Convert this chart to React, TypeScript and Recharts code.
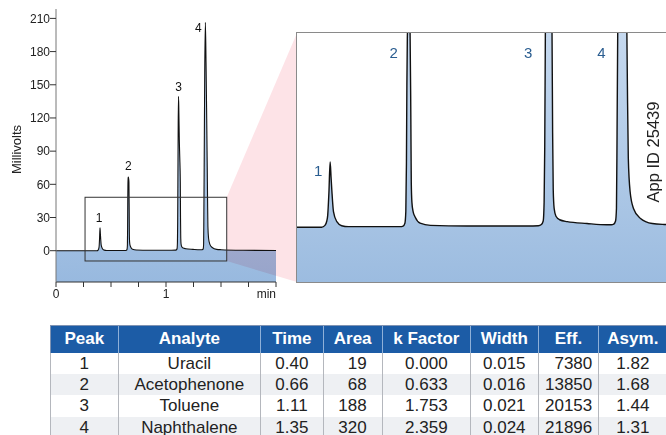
import { Area, ComposedChart, ReferenceArea, ReferenceDot, XAxis, YAxis } from "recharts";

const FONT = '"Liberation Sans", Arial, Helvetica, sans-serif';

// chromatogram trace (minutes, millivolts)
const traceTime = [
  0, 0.3, 0.372, 0.383, 0.389, 0.392, 0.396, 0.4, 0.403, 0.4056, 0.411, 0.422, 0.438, 0.46, 0.6,
  0.63, 0.64, 0.646, 0.649, 0.651, 0.6525, 0.654, 0.6565, 0.658, 0.6605, 0.663, 0.6655, 0.667, 0.669,
  0.673, 0.68, 0.696, 0.73, 0.85, 1.05, 1.085, 1.095, 1.101, 1.104, 1.106, 1.108, 1.111, 1.114, 1.117,
  1.121, 1.125, 1.13, 1.132, 1.134, 1.137, 1.143, 1.155, 1.18, 1.245, 1.31, 1.325, 1.333, 1.339, 1.342,
  1.344, 1.347, 1.352, 1.358, 1.364, 1.37, 1.375, 1.378, 1.381, 1.387, 1.398, 1.42, 1.46, 1.5, 1.7, 2.0,
];
const traceMv = [
  0, 0, 0, 0.6, 2, 3.8, 11, 20.8, 16, 11.8, 5, 1.8, 0.5, 0.2, 0.2,
  0.2, 0.4, 1.3, 5, 20, 45, 60, 66, 66.5, 65, 62, 35, 14, 8,
  5, 3.2, 1.3, 0.6, 0.4, 0.4, 0.5, 0.9, 2, 8, 25, 60, 115, 139.6, 125,
  100, 85, 62, 30, 12, 6, 3.5, 2.4, 1.8, 1.2, 0.8, 0.8, 1.0, 2.0, 6,
  30, 75, 160, 206.5, 170, 120, 75, 45, 22, 11.3, 6, 2.9, 1.2, 0.9, 0.4, 0.2,
];
const trace = traceTime.map((t, i) => ({ t, mv: traceMv[i] }));

const peakIds = ["1", "2", "3", "4"];
const peakTimes = [0.4, 0.658, 1.114, 1.358];
const peakHeights = [20.8, 66.5, 139.6, 206.5];

const yTicks = [0, 30, 60, 90, 120, 150, 180, 210];
const xTicks = [0, 0.25, 0.5, 0.75, 1, 1.25, 1.5, 1.75, 2];
const xTickText: Record<number, string> = { 0: "0", 1: "1", 2: "min" };

// zoom window drawn on the main trace, and what the inset shows
const zoomTime = [0.264, 1.552];
const zoomMv = [-9.3, 48.3];
const insetTime = [0.291, 1.505];
const insetMv = [-17.4, 61.8];
const insetLabelMv = 55.7;

// results table
const tableHeaders = ["Peak", "Analyte", "Time", "Area", "k Factor", "Width", "Eff.", "Asym."];
const analytes = ["Uracil", "Acetophenone", "Toluene", "Naphthalene"];
const retTimes = ["0.40", "0.66", "1.11", "1.35"];
const areas = ["19", "68", "188", "320"];
const kFactors = ["0.000", "0.633", "1.753", "2.359"];
const widths = ["0.015", "0.016", "0.021", "0.024"];
const effs = ["7380", "13850", "20153", "21896"];
const asyms = ["1.82", "1.68", "1.44", "1.31"];

// layout
const INSET = { left: 297, top: 33, width: 369, height: 249 };
const mainLabelOffsets = [[-1, -10], [0, -11], [0, -9], [-7, 6]];
const insetLabelOffsets = [[-12, 9], [-15, 0], [-19, 0], [-20, 0]];
const colWidths = [67.7, 142.3, 62.7, 59, 88.3, 67.7, 60.6, 67.7];

function PeakTag(props: any) {
  const { viewBox, value, dx, dy, fill, fontSize } = props;
  if (!viewBox) return null;
  return (
    <text
      x={viewBox.x + (viewBox.width || 0) / 2 + dx}
      y={viewBox.y + (viewBox.height || 0) / 2 + dy}
      textAnchor="middle"
      dominantBaseline="central"
      fill={fill}
      fontSize={fontSize}
      fontFamily={FONT}
    >
      {value}
    </text>
  );
}

function MainXTick(props: any) {
  const { x, y, payload } = props;
  const v = payload.value;
  const text = xTickText[v] ?? "";
  return (
    <text x={x} y={y} dy="0.71em" textAnchor={v === 2 ? "end" : "middle"} fill="#222" fontSize={12} fontFamily={FONT}>
      {text}
    </text>
  );
}

// zoom rectangle plus the pink wedge to the inset's left edge
function ZoomBox(props: any) {
  const { x, y, width, height } = props;
  const right = x + width;
  const pts = `${right},${y} ${INSET.left},${INSET.top} ${INSET.left},${INSET.top + INSET.height} ${right},${y + height}`;
  return (
    <g>
      <polygon points={pts} fill="#fde3e7" style={{ mixBlendMode: "multiply" }} />
      <rect x={x} y={y} width={width} height={height} fill="none" stroke="#333" strokeWidth={1} />
    </g>
  );
}

function MainChart() {
  return (
    <ComposedChart width={666} height={310} data={trace} margin={{ top: 9, right: 390, bottom: 0, left: 0 }}>
      <defs>
        <linearGradient id="mainFill" x1="0" y1="9" x2="0" y2="282" gradientUnits="userSpaceOnUse">
          <stop offset="0%" stopColor="#c9dbf0" />
          <stop offset="100%" stopColor="#98b9df" />
        </linearGradient>
      </defs>
      <XAxis
        dataKey="t"
        type="number"
        domain={[0, 2]}
        ticks={xTicks}
        height={28}
        tickSize={5}
        tickMargin={2}
        interval={0}
        axisLine={{ stroke: "#333" }}
        tickLine={{ stroke: "#333" }}
        tick={<MainXTick />}
      />
      <YAxis
        type="number"
        domain={[-28.3, 218.5]}
        ticks={yTicks}
        width={56}
        tickSize={6}
        tickMargin={0}
        interval={0}
        axisLine={{ stroke: "#777" }}
        tickLine={{ stroke: "#333" }}
        tick={{ fill: "#222", fontSize: 12, fontFamily: FONT }}
        label={{
          content: (p: any) => (
            <text
              transform={`translate(16, ${p.viewBox.y + p.viewBox.height / 2 + 4}) rotate(-90)`}
              textAnchor="middle"
              dominantBaseline="central"
              fontSize={13}
              fill="#222"
              fontFamily={FONT}
            >
              Millivolts
            </text>
          ),
        }}
      />
      <Area
        type="monotone"
        dataKey="mv"
        stroke="#111"
        strokeWidth={1.1}
        fill="url(#mainFill)"
        fillOpacity={1}
        baseValue={-28.3}
        dot={false}
        activeDot={false}
        isAnimationActive={false}
      />
      <ReferenceArea
        x1={zoomTime[0]}
        x2={zoomTime[1]}
        y1={zoomMv[0]}
        y2={zoomMv[1]}
        shape={<ZoomBox />}
        zIndex={700}
      />
      {peakIds.map((id, i) => (
        <ReferenceDot
          key={id}
          x={peakTimes[i]}
          y={peakHeights[i]}
          r={0}
          stroke="none"
          fill="none"
          zIndex={800}
          label={{
            value: id,
            content: (p: any) => (
              <PeakTag {...p} dx={mainLabelOffsets[i][0]} dy={mainLabelOffsets[i][1]} fill="#111" fontSize={12} />
            ),
          }}
        />
      ))}
    </ComposedChart>
  );
}

function InsetChart() {
  return (
    <ComposedChart width={INSET.width} height={INSET.height} data={trace} margin={{ top: 0, right: 0, bottom: 0, left: 0 }}>
      <defs>
        <linearGradient id="insetFill" x1="0" y1="0" x2="0" y2={INSET.height} gradientUnits="userSpaceOnUse">
          <stop offset="0%" stopColor="#c6d9ef" />
          <stop offset="100%" stopColor="#9cbce0" />
        </linearGradient>
      </defs>
      <XAxis dataKey="t" type="number" domain={insetTime} allowDataOverflow hide />
      <YAxis type="number" domain={insetMv} allowDataOverflow hide />
      <Area
        type="monotone"
        dataKey="mv"
        stroke="#111"
        strokeWidth={1.4}
        fill="url(#insetFill)"
        fillOpacity={1}
        baseValue={insetMv[0]}
        dot={false}
        activeDot={false}
        isAnimationActive={false}
      />
      {peakIds.map((id, i) => (
        <ReferenceDot
          key={id}
          x={peakTimes[i]}
          y={i === 0 ? peakHeights[i] : insetLabelMv}
          r={0}
          stroke="none"
          fill="none"
          zIndex={800}
          label={{
            value: id,
            content: (p: any) => (
              <PeakTag {...p} dx={insetLabelOffsets[i][0]} dy={insetLabelOffsets[i][1]} fill="#2a5d90" fontSize={15} />
            ),
          }}
        />
      ))}
    </ComposedChart>
  );
}

function ResultsTable() {
  const rows = analytes.map((a, i) => [peakIds[i], a, retTimes[i], areas[i], kFactors[i], widths[i], effs[i], asyms[i]]);
  const align = (c: number) => (c === 3 || c === 6 ? "right" : "center");
  const padRight = (c: number) => (c === 3 ? 15 : c === 6 ? 6 : 0);
  return (
    <table
      style={{
        position: "absolute",
        left: 50,
        top: 325,
        width: 616,
        borderCollapse: "collapse",
        tableLayout: "fixed",
        fontFamily: FONT,
        fontSize: 17,
        color: "#222",
      }}
    >
      <colgroup>
        {colWidths.map((w, i) => (
          <col key={i} style={{ width: w }} />
        ))}
      </colgroup>
      <thead>
        <tr style={{ height: 27 }}>
          {tableHeaders.map((h, c) => (
            <th
              key={h}
              style={{
                background: "#1c5ca6",
                color: "#fff",
                fontWeight: "bold",
                padding: 0,
                borderTop: "1px solid #7f93b3",
                borderLeft: c === 0 ? "1px solid #7f93b3" : "1px solid #8fb0d8",
                textAlign: "center",
              }}
            >
              {h}
            </th>
          ))}
        </tr>
      </thead>
      <tbody>
        {rows.map((r, i) => (
          <tr key={i} style={{ height: 21.4, background: i % 2 === 1 ? "#eef0f3" : "#fff" }}>
            {r.map((v, c) => (
              <td
                key={c}
                style={{
                  padding: 0,
                  paddingRight: padRight(c),
                  textAlign: align(c) as any,
                  borderLeft: "1px solid #b4b7bd",
                  lineHeight: "21px",
                }}
              >
                {v}
              </td>
            ))}
          </tr>
        ))}
      </tbody>
    </table>
  );
}

export default function App() {
  return (
    <div style={{ position: "absolute", left: 0, top: 0, width: 666, height: 435, overflow: "hidden", background: "#fff" }}>
      <div style={{ position: "absolute", left: 0, top: 0 }}>
        <MainChart />
      </div>
      <div
        style={{
          position: "absolute",
          left: INSET.left - 1,
          top: INSET.top - 1,
          width: INSET.width,
          height: INSET.height,
          border: "1px solid #8a8a8a",
          background: "#fff",
        }}
      >
        <InsetChart />
      </div>
      <div
        style={{
          position: "absolute",
          left: 653,
          top: 151.5,
          transform: "translate(-50%, -50%) rotate(-90deg)",
          whiteSpace: "nowrap",
          fontFamily: FONT,
          fontSize: 16.5,
          color: "#222",
        }}
      >
        App ID 25439
      </div>
      <ResultsTable />
    </div>
  );
}
